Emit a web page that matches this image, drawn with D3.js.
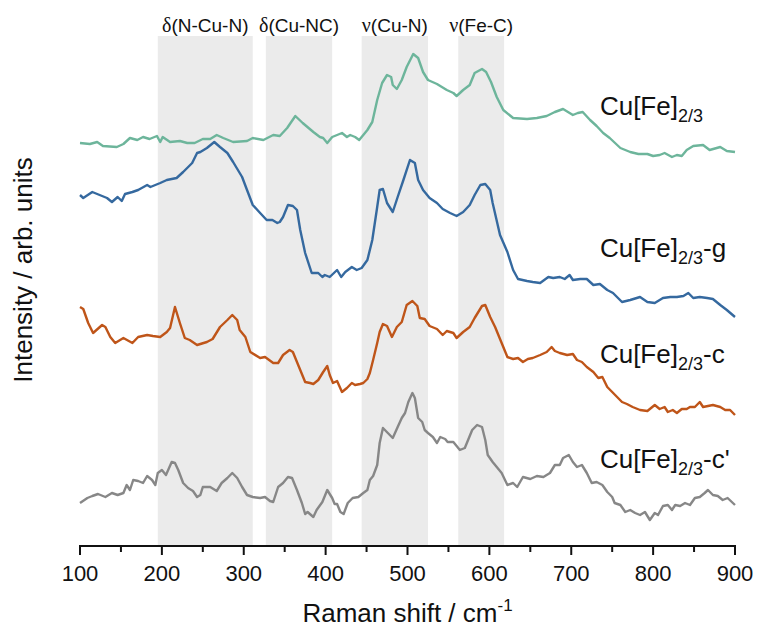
<!DOCTYPE html>
<html>
<head>
<meta charset="utf-8">
<script src="https://cdn.jsdelivr.net/npm/d3@7"></script>
<style>
  body { margin: 0; background: #fff; }
  svg { display: block; font-family: "Liberation Sans", Arial, sans-serif; }
</style>
</head>
<body>
<svg id="chart" width="757" height="630"></svg>
<script>
// Raman shift (cm-1), intensity (arb. units, spectra already stacked with offsets)
const pristine = [
  [100,403],[112,402],[121,404],[128,400],[145,399],[153,402],[161,408],[170,406],[177,409],[185,407],
  [194,410],[198,404],[201,409],[210,404],[222,405],[231,403],[240,403],[250,407],[259,407],[267,411],
  [275,408],[287,404],[304,405],[311,408],[324,406],[336,411],[344,410],[353,418],[363,430],[372,423],
  [385,414],[393,409],[397,408],[402,403],[408,409],[414,411],[420,413],[426,409],[430,411],[436,409],
  [441,406],[451,416],[457,424],[463,446],[469,463],[475,471],[480,469],[482,461],[487,457],[493,466],
  [499,479],[507,492],[513,488],[519,474],[525,466],[536,462],[548,456],[556,453],[560,450],[568,456],
  [576,461],[582,473],[591,477],[596,474],[602,464],[609,449],[617,436],[629,428],[646,427],[658,428],
  [670,430],[680,434],[690,437],[696,434],[702,431],[708,433],[714,434],[723,426],[731,420],[739,413],
  [747,408],[760,398],[772,394],[782,392],[793,392],[800,390],[808,391],[814,393],[823,389],[829,391],
  [835,390],[841,396],[849,400],[861,401],[869,396],[882,399],[890,395],[900,394]
];
const gSample = [
  [100,351],[104,348],[115,354],[124,351],[133,348],[139,344],[146,349],[151,345],[155,352],[164,354],
  [171,356],[182,361],[186,359],[198,363],[206,366],[218,368],[226,374],[237,383],[243,393],[247,394],
  [255,398],[264,404],[271,399],[280,393],[287,384],[298,369],[304,356],[311,341],[320,333],[328,326],
  [335,326],[341,323],[344,324],[348,329],[354,341],[360,340],[365,336],[369,316],[375,293],[383,273],
  [391,273],[396,269],[399,271],[405,269],[414,276],[419,269],[424,274],[432,279],[438,276],[444,278],
  [451,286],[457,306],[463,339],[466,356],[470,357],[475,343],[482,334],[488,349],[495,366],[503,386],
  [509,383],[513,366],[519,356],[527,348],[536,343],[543,337],[552,333],[560,330],[568,334],[576,341],
  [582,351],[589,361],[595,362],[601,356],[604,343],[613,311],[622,294],[629,276],[635,267],[646,265],
  [653,264],[662,263],[672,269],[678,268],[686,269],[692,267],[698,271],[702,266],[711,267],[719,267],
  [727,261],[735,262],[744,256],[751,253],[762,244],[772,246],[784,249],[793,244],[802,243],[812,248],
  [821,249],[829,249],[837,250],[843,253],[849,248],[857,249],[866,248],[873,247],[882,241],[890,236],
  [900,229]
];
const cSample = [
  [100,239],[104,237],[110,223],[116,213],[127,221],[131,219],[137,209],[143,203],[153,208],[164,203],
  [171,209],[182,211],[189,210],[198,209],[206,214],[210,218],[216,239],[222,223],[228,208],[234,206],
  [243,201],[255,204],[262,207],[271,219],[280,226],[286,231],[292,226],[295,216],[302,209],[308,194],
  [320,188],[326,189],[336,183],[342,183],[348,191],[356,196],[360,194],[369,176],[375,164],[381,163],
  [385,162],[391,166],[397,174],[402,180],[405,171],[409,163],[414,165],[420,154],[426,158],[432,163],
  [436,161],[442,162],[446,163],[451,167],[454,173],[458,186],[463,203],[466,214],[470,222],[475,220],
  [481,209],[487,219],[493,224],[499,241],[506,245],[512,240],[515,228],[521,227],[527,220],[536,217],
  [543,211],[548,215],[556,213],[560,208],[568,214],[576,219],[582,228],[591,240],[595,241],[601,229],
  [607,219],[613,207],[622,189],[629,187],[635,188],[641,184],[647,187],[653,188],[662,191],[670,194],
  [676,199],[680,195],[686,193],[695,191],[702,192],[707,186],[713,184],[719,179],[727,174],[733,168],
  [738,169],[744,159],[750,154],[756,149],[762,144],[768,142],[775,139],[784,136],[793,135],[802,141],
  [808,137],[814,139],[818,134],[824,136],[829,133],[835,137],[841,137],[845,139],[851,139],[857,144],
  [861,139],[867,140],[873,141],[882,139],[888,136],[894,136],[900,131]
];
const cPrimeSample = [
  [100,43],[109,48],[115,50],[122,52],[131,49],[139,53],[146,51],[153,53],[157,61],[161,56],
  [165,66],[171,65],[177,63],[182,70],[188,66],[192,61],[195,73],[200,76],[205,71],[212,84],
  [216,83],[220,76],[226,63],[232,58],[238,55],[243,49],[247,51],[250,59],[259,59],[267,55],
  [273,63],[280,68],[286,73],[292,68],[298,59],[304,51],[311,49],[320,48],[326,49],[332,45],
  [336,44],[342,59],[348,63],[354,69],[359,68],[365,56],[371,43],[375,32],[378,34],[385,29],
  [389,36],[396,44],[402,56],[408,48],[411,42],[414,42],[418,34],[422,32],[427,43],[433,48],
  [440,49],[446,53],[451,56],[454,66],[458,70],[463,81],[466,103],[470,118],[476,113],[482,108],
  [488,119],[493,128],[497,133],[501,144],[506,153],[509,148],[513,128],[518,124],[521,116],[525,113],
  [531,109],[536,103],[540,109],[546,107],[549,104],[556,104],[560,100],[564,96],[570,98],[574,106],
  [579,116],[585,121],[591,119],[595,106],[598,91],[604,84],[609,79],[615,73],[622,61],[629,63],
  [634,59],[641,69],[650,67],[658,70],[666,69],[674,73],[680,81],[686,81],[690,88],[697,91],
  [702,84],[707,79],[713,81],[719,73],[725,63],[731,64],[738,61],[744,54],[750,49],[753,43],
  [760,41],[766,34],[772,36],[778,33],[784,31],[790,34],[796,26],[802,33],[806,31],[812,40],
  [818,41],[823,36],[827,41],[833,40],[839,43],[845,41],[851,48],[857,49],[863,53],[867,56],
  [873,51],[879,50],[885,46],[891,48],[900,41]
];

const seriesNames = ['', '-g', '-c', "-c'"];
const seriesColors = ['#6db59b', '#35699f', '#bf5519', '#878787'];
const seriesData = [pristine, gSample, cSample, cPrimeSample];
// label anchor: [Raman shift, intensity]
const labelAnchors = [[735, 431], [735, 289], [735, 183], [735, 78]];

const bandGreek = ['δ', 'δ', 'ν', 'ν'];
const bandLabels = ['(N-Cu-N)', '(Cu-NC)', '(Cu-N)', '(Fe-C)'];
const bandRanges = [[195, 311], [327, 408], [444, 525], [562, 618]];

const xTicks = [100, 200, 300, 400, 500, 600, 700, 800, 900];
const xMinorTicks = [150, 250, 350, 450, 550, 650, 750, 850];

const svg = d3.select('#chart');
const margin = { left: 80, right: 22, top: 36, bottom: 84 };
const W = 757, H = 630;

const x = d3.scaleLinear().domain([100, 900]).range([margin.left, W - margin.right]);
const y = d3.scaleLinear().domain([0, 510]).range([H - margin.bottom, margin.top]);

// shaded bands
const bands = svg.append('g');
bands.selectAll('rect')
  .data(bandRanges)
  .enter().append('rect')
  .attr('x', d => x(d[0]))
  .attr('width', d => x(d[1]) - x(d[0]))
  .attr('y', y(510))
  .attr('height', y(0) - y(510))
  .attr('fill', '#ebebeb');

const bandText = bands.selectAll('text')
  .data(bandRanges)
  .enter().append('text')
  .attr('x', d => (x(d[0]) + x(d[1])) / 2)
  .attr('y', y(510) - 4)
  .attr('text-anchor', 'middle')
  .attr('font-size', 19)
  .attr('fill', '#111');
bandText.append('tspan')
  .attr('font-family', '"Liberation Serif", "DejaVu Serif", serif')
  .attr('font-size', 20)
  .text((d, i) => bandGreek[i]);
bandText.append('tspan').text((d, i) => bandLabels[i]);

// spectra
const line = d3.line().x(d => x(d[0])).y(d => y(d[1]));
svg.append('g').selectAll('path')
  .data(seriesData)
  .enter().append('path')
  .attr('d', line)
  .attr('fill', 'none')
  .attr('stroke', (d, i) => seriesColors[i])
  .attr('stroke-width', 2.4)
  .attr('stroke-linejoin', 'round');

// series labels
const labels = svg.append('g').selectAll('text')
  .data(labelAnchors)
  .enter().append('text')
  .attr('x', d => x(d[0]))
  .attr('y', d => y(d[1]))
  .attr('font-size', 26)
  .attr('fill', '#111');
labels.append('tspan').text('Cu[Fe]');
labels.append('tspan').attr('font-size', 18).attr('dy', 7).text('2/3');
labels.append('tspan').attr('dy', -7).text((d, i) => seriesNames[i]);

// x axis
const axisG = svg.append('g').attr('transform', `translate(0,${y(0)})`);
axisG.append('line')
  .attr('x1', x(100)).attr('x2', x(900))
  .attr('stroke', '#111').attr('stroke-width', 2);
axisG.selectAll('.major')
  .data(xTicks)
  .enter().append('line')
  .attr('x1', d => x(d)).attr('x2', d => x(d))
  .attr('y1', -1).attr('y2', 9)
  .attr('stroke', '#111').attr('stroke-width', 2);
axisG.selectAll('.minor')
  .data(xMinorTicks)
  .enter().append('line')
  .attr('x1', d => x(d)).attr('x2', d => x(d))
  .attr('y1', -1).attr('y2', 6)
  .attr('stroke', '#111').attr('stroke-width', 2);
axisG.selectAll('text')
  .data(xTicks)
  .enter().append('text')
  .attr('x', d => x(d))
  .attr('y', 35)
  .attr('text-anchor', 'middle')
  .attr('font-size', 22)
  .attr('fill', '#111')
  .text(d => d);

// axis titles
const xTitle = svg.append('text')
  .attr('x', (x(100) + x(900)) / 2)
  .attr('y', 622)
  .attr('text-anchor', 'middle')
  .attr('font-size', 26)
  .attr('fill', '#111');
xTitle.append('tspan').text('Raman shift / cm');
xTitle.append('tspan').attr('font-size', 17).attr('dy', -11).text('-1');

svg.append('text')
  .attr('transform', 'translate(32,270) rotate(-90)')
  .attr('text-anchor', 'middle')
  .attr('font-size', 26)
  .attr('fill', '#111')
  .text('Intensity / arb. units');
</script>
</body>
</html>
